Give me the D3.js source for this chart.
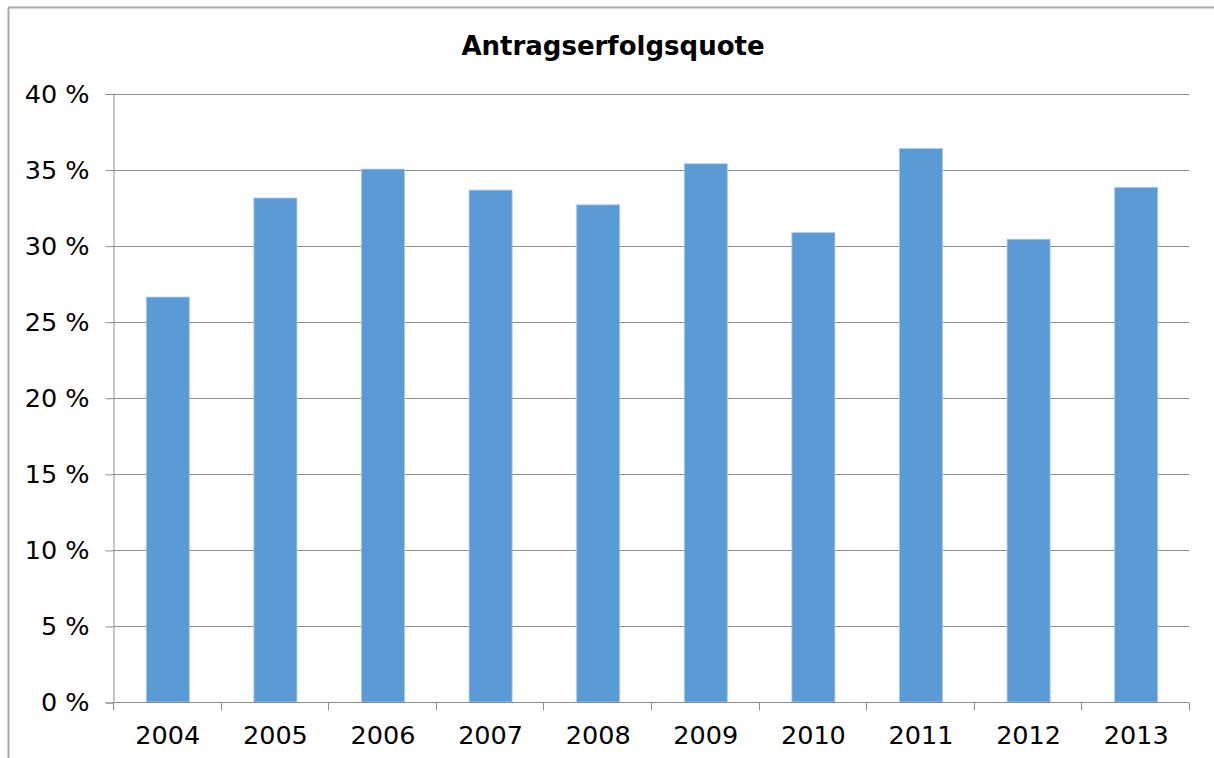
<!DOCTYPE html>
<html>
<head>
<meta charset="utf-8">
<script src="https://cdn.jsdelivr.net/npm/d3@7"></script>
<style>
  body { margin: 0; background: #fff; }
  svg { display: block; }
  text { font-family: "DejaVu Sans", Verdana, sans-serif; fill: #000; }
</style>
</head>
<body>
<svg id="chart" width="1214" height="758"></svg>
<script>
// data
var years = ["2004", "2005", "2006", "2007", "2008", "2009", "2010", "2011", "2012", "2013"];
var quote = [26.62, 33.13, 35.03, 33.65, 32.68, 35.38, 30.85, 36.38, 30.42, 33.83];
var yTicks = [0, 5, 10, 15, 20, 25, 30, 35, 40];
var title = "Antragserfolgsquote";

var dim = { left: 113, right: 1189, top: 93.5, bottom: 702 };
var gridColor = "#8c8c8c";
var barColor = "#5b9bd5";
var fontSize = "25.5px";

var svg = d3.select("#chart");

// outer frame (top + left edge visible)
svg.append("line")
   .attr("x1", 8).attr("x2", 1214)
   .attr("y1", 7.5).attr("y2", 7.5)
   .style("stroke", "#a9a9a9").style("stroke-width", 2);
svg.append("line")
   .attr("x1", 8.5).attr("x2", 8.5)
   .attr("y1", 7.5).attr("y2", 758)
   .style("stroke", "#a9a9a9").style("stroke-width", 2);

var xScale = d3.scaleBand()
               .domain(years)
               .range([dim.left, dim.right])
               .paddingInner(0.6)
               .paddingOuter(0.3);

var yScale = d3.scaleLinear()
               .domain([0, 40])
               .range([dim.bottom, dim.top]);

// gridlines
svg.append("g")
   .selectAll("line")
   .data(yTicks.filter(function(d) { return d > 0; }))
   .enter().append("line")
   .attr("x1", dim.left).attr("x2", dim.right)
   .attr("y1", function(d) { return Math.round(yScale(d)) + 0.5; })
   .attr("y2", function(d) { return Math.round(yScale(d)) + 0.5; })
   .style("stroke", gridColor)
   .style("stroke-width", 1);

// bars
svg.append("g")
   .selectAll("rect")
   .data(quote)
   .enter().append("rect")
   .attr("x", function(d, i) { return xScale(years[i]) + 1; })
   .attr("y", function(d) { return yScale(d); })
   .attr("width", xScale.bandwidth())
   .attr("height", function(d) { return dim.bottom - yScale(d); })
   .style("fill", barColor)
   .style("stroke", "#a9c9ea")
   .style("stroke-width", 0.8);

// y axis
var yAxis = d3.axisLeft(yScale)
              .tickValues(yTicks)
              .tickSize(8)
              .tickPadding(16)
              .tickFormat(function(d) { return d + " %"; });
var gy = svg.append("g")
            .attr("transform", "translate(" + (dim.left + 0.5) + ",0.5)")
            .call(yAxis);
gy.select(".domain").style("stroke", gridColor);
gy.selectAll(".tick line").style("stroke", gridColor);
gy.selectAll(".tick text")
  .style("font-size", fontSize)
  .style("font-family", "'DejaVu Sans', Verdana, sans-serif")
  .attr("fill", "#000");

// x axis with ticks on category boundaries
var gx = svg.append("g")
            .attr("transform", "translate(0," + (Math.round(dim.bottom) + 0.5) + ")");
gx.append("line")
  .attr("x1", dim.left).attr("x2", dim.right)
  .style("stroke", gridColor);
var step = xScale.step();
gx.selectAll("line.tk")
  .data(d3.range(years.length + 1))
  .enter().append("line")
  .attr("class", "tk")
  .attr("x1", function(i) { return Math.round(dim.left + i * step) + 0.5; })
  .attr("x2", function(i) { return Math.round(dim.left + i * step) + 0.5; })
  .attr("y1", 0).attr("y2", 8)
  .style("stroke", gridColor);
gx.selectAll("text")
  .data(years)
  .enter().append("text")
  .attr("x", function(d) { return xScale(d) + xScale.bandwidth() / 2 + 1; })
  .attr("y", 41)
  .attr("text-anchor", "middle")
  .style("font-size", fontSize)
  .text(function(d) { return d; });

// title
svg.append("text")
   .attr("x", 613)
   .attr("y", 55)
   .attr("text-anchor", "middle")
   .style("font-size", "26px")
   .style("font-weight", "bold")
   .text(title);
</script>
</body>
</html>
